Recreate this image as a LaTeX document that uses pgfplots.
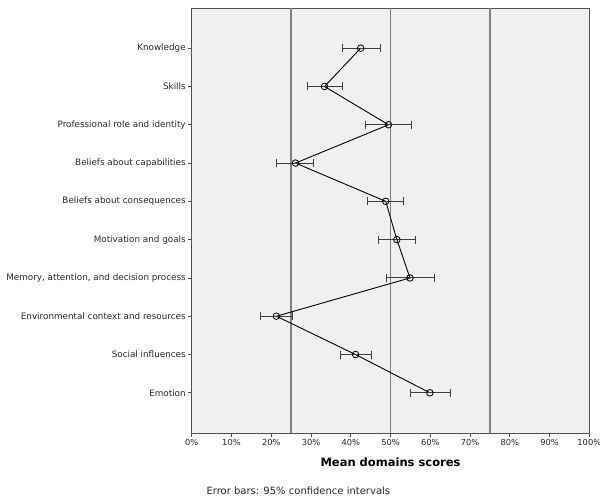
\documentclass[border=0pt]{standalone}
\usepackage{fontspec}
\setmainfont{DejaVu Sans}
\usepackage{pgfplots}
\pgfplotsset{compat=1.18}
\definecolor{bgc}{HTML}{F0F0F0}
\definecolor{refl}{HTML}{808080}
\definecolor{frm}{HTML}{505050}
\definecolor{errc}{HTML}{404040}
\begin{document}
\begin{tikzpicture}[x=1bp,y=1bp]
\useasboundingbox (0,0) rectangle (600,503);
\begin{axis}[
  at={(191.7bp,70bp)}, anchor=south west,
  scale only axis, width=397.6bp, height=425bp,
  xmin=0, xmax=100, ymin=-0.05, ymax=11.05,
  y dir=reverse,
  axis background/.style={fill=bgc},
  axis line style={frm, line width=0.9pt},
  xtick={0,10,...,100},
  xticklabel={\pgfmathprintnumber{\tick}\%},
  /pgf/number format/assume math mode=true,
  ytick={1,...,10},
  yticklabels={Knowledge,Skills,Professional role and identity,Beliefs about capabilities,Beliefs about consequences,Motivation and goals,{Memory, attention, and decision process},Environmental context and resources,Social influences,Emotion},
  tick align=outside, major tick length=3.5bp,
  tick style={frm, line width=0.8pt},
  xtick pos=bottom, ytick pos=left,
  yticklabel style={font=\fontsize{8.8bp}{10bp}\selectfont, text=black!85, xshift=1bp},
  xticklabel style={font=\fontsize{8.3bp}{10bp}\selectfont, text=black!85, yshift=1bp},
  xlabel={\textbf{Mean domains scores}},
  xlabel style={font=\fontsize{11.5bp}{13bp}\selectfont, yshift=-6bp},
  clip=false,
]
\addplot[refl, line width=1.5pt, forget plot] coordinates {(25,-0.05) (25,11.05)};
\addplot[refl, line width=1.5pt, forget plot] coordinates {(50,-0.05) (50,11.05)};
\addplot[refl, line width=1.5pt, forget plot] coordinates {(75,-0.05) (75,11.05)};
\addplot[black, line width=0.9pt, mark=o, mark size=3.3bp, mark options={line width=0.8pt},
  error bars/.cd, x dir=both, x explicit,
  error bar style={errc, line width=0.9pt},
  error mark options={rotate=90, mark size=4bp, line width=0.9pt, errc}]
coordinates {
  (42.5,1)  += (4.9,0) -= (4.6,0)
  (33.4,2)  += (4.4,0) -= (4.2,0)
  (49.5,3)  += (5.7,0) -= (5.7,0)
  (26.1,4)  += (4.5,0) -= (4.7,0)
  (48.8,5)  += (4.5,0) -= (4.6,0)
  (51.6,6)  += (4.6,0) -= (4.6,0)
  (54.9,7)  += (6.2,0) -= (6.0,0)
  (21.3,8)  += (4.1,0) -= (4.1,0)
  (41.2,9)  += (3.9,0) -= (3.8,0)
  (59.9,10) += (5.1,0) -= (5.0,0)
};
\end{axis}
\node[anchor=west, font=\fontsize{10bp}{12bp}\selectfont, text=black!85] at (203,12) {Error bars: 95\% confidence intervals};
\end{tikzpicture}
\end{document}
